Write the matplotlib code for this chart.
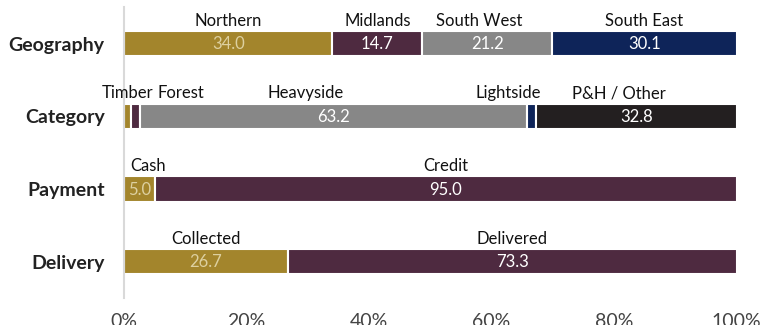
import numpy as np
import matplotlib.pyplot as plt

plt.rcParams['font.family'] = ['Lato', 'DejaVu Sans']

rows = ["Geography", "Category", "Payment", "Delivery"]

geo_names = ["Northern", "Midlands", "South West", "South East"]
geo_values = [34.0, 14.7, 21.2, 30.1]

cat_names = ["Timber", "Forest", "Heavyside", "Lightside", "P&H / Other"]
cat_values = [1.2, 1.4, 63.2, 1.4, 32.8]

pay_names = ["Cash", "Credit"]
pay_values = [5.0, 95.0]

del_names = ["Collected", "Delivered"]
del_values = [26.7, 73.3]

ticks = [0, 20, 40, 60, 80, 100]

GOLD = "#a3852c"
PLUM = "#4e2a40"
GREY = "#878787"
NAVY = "#0e2459"
BLACK = "#231f20"

row_colors = [
    [GOLD, PLUM, GREY, NAVY],
    [GOLD, PLUM, GREY, NAVY, BLACK],
    [GOLD, PLUM],
    [GOLD, PLUM],
]
# horizontal nudges for crowded labels (in % units)
nudges = {"Forest": 7.3, "Heavyside": -4.5, "Lightside": -3.8,
          "P&H / Other": -2.8, "Cash": 1.5, "South West": -1.3}

fig = plt.figure(figsize=(7.61, 3.25), dpi=100)
ax = fig.add_axes([0.163, 0.083, 0.805, 0.895])

bar_h = 0.35
data = [(geo_names, geo_values), (cat_names, cat_values),
        (pay_names, pay_values), (del_names, del_values)]

for i, (names, values) in enumerate(data):
    left = 0.0
    for name, val, col in zip(names, values, row_colors[i]):
        ax.barh(i, val, left=left, height=bar_h, color=col,
                edgecolor="white", linewidth=1.5)
        cx = left + val / 2
        ax.text(cx + nudges.get(name, 0), i - bar_h / 2 - 0.03, name,
                ha="center", va="bottom", fontsize=12, color="#111111")
        if val >= 3:
            tc = "#ddd0a0" if col == GOLD else "white"
            ax.text(cx, i + 0.01, f"{val:.1f}", ha="center", va="center",
                    fontsize=12, color=tc)
        left += val

ax.set_ylim(3.5, -0.5)
ax.set_xlim(0, 100)
ax.set_yticks(np.arange(len(rows)), labels=rows)
ax.set_xticks(ticks, labels=[f"{t}%" for t in ticks])
for lab in ax.get_yticklabels():
    lab.set_fontweight("bold")
    lab.set_fontsize(14)
ax.tick_params(axis="y", length=0, pad=14, colors="#222222")
ax.tick_params(axis="x", length=0, pad=11, labelsize=14, colors="#444444")
for s in ["top", "right", "bottom"]:
    ax.spines[s].set_visible(False)
ax.spines["left"].set_color("#d9d9d9")
ax.spines["left"].set_linewidth(1.5)

fig.savefig("out.png", dpi=100)
